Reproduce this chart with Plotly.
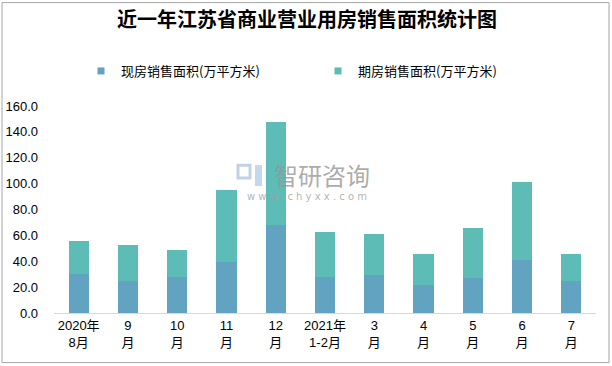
import plotly.graph_objects as go

categories = ["2020年<br>8月", "9<br>月", "10<br>月", "11<br>月", "12<br>月", "2021年<br>1-2月",
              "3<br>月", "4<br>月", "5<br>月", "6<br>月", "7<br>月"]
existing = [30.3, 24.9, 28.0, 39.5, 68.0, 28.0, 29.5, 21.8, 27.2, 41.1, 24.9]
totals = [55.7, 52.6, 48.8, 95.0, 147.4, 62.6, 61.1, 45.7, 65.7, 101.2, 45.7]
presale = [round(t - e, 1) for t, e in zip(totals, existing)]
series_names = ["现房销售面积(万平方米)", "期房销售面积(万平方米)"]
colors = ["#62A3C2", "#5DBCB6"]
ytick_vals = [0, 20, 40, 60, 80, 100, 120, 140, 160]

W, H = 612, 366
L, R, T, B = 54, 596, 105.7, 313.3

fig = go.Figure()
fig.add_bar(x=categories, y=existing, name=series_names[0], marker_color=colors[0],
            marker_line_width=0, showlegend=False)
fig.add_bar(x=categories, y=presale, name=series_names[1], marker_color=colors[1],
            marker_line_width=0, showlegend=False)
for name, c in zip(series_names, colors):
    fig.add_scatter(x=[None], y=[None], mode="markers", name=name,
                    marker=dict(symbol="square", size=7, color=c), showlegend=True)

def px(x):
    return (x - L) / (R - L)

def py(y):
    return (B - y) / (B - T)

fig.update_layout(
    width=W, height=H,
    margin=dict(l=L, r=W - R, t=T, b=H - B, pad=0, autoexpand=False),
    barmode="stack", bargap=0.59,
    plot_bgcolor="white", paper_bgcolor="white",
    font=dict(family="Noto Sans CJK SC, Liberation Sans", size=13, color="#000000"),
    title=dict(text="<b>近一年江苏省商业营业用房销售面积统计图</b>", x=307 / W, xref="container",
               xanchor="center",
               y=1 - 20 / H, yref="container", yanchor="middle",
               font=dict(family="Noto Sans CJK SC", size=20, color="#000000")),
    legend=dict(orientation="h", xref="container", yref="container", x=81 / W, y=1 - 71 / H,
                yanchor="middle", xanchor="left", entrywidth=192, itemwidth=30,
                font=dict(family="Noto Sans CJK SC", size=13, color="#000000"), traceorder="normal"),
    showlegend=True,
    xaxis=dict(showgrid=False, showline=True, linecolor="#D9D9D9", linewidth=1, ticks="",
               automargin=False,
               tickfont=dict(family="Liberation Sans, Noto Sans CJK SC", size=13), tickangle=0),
    yaxis=dict(range=[0, 160], tickvals=ytick_vals, tickformat=".1f", showgrid=False, zeroline=False,
               automargin=False, ticklabelstandoff=15,
               showline=False, ticks="", tickfont=dict(family="Liberation Sans", size=13)),
)

fig.add_shape(type="rect", xref="paper", yref="paper", x0=px(2), x1=px(609), y0=py(363), y1=py(2),
              line=dict(color="#A6A6A6", width=1), layer="below")

fig.add_annotation(text="智研咨询", xref="paper", yref="paper", x=px(322), y=py(174), showarrow=False,
                   xanchor="center", yanchor="middle",
                   font=dict(family="Noto Sans CJK SC", size=24, color="rgba(150,150,150,0.8)"))
fig.add_annotation(text="w w w . c h y x x . c o m", xref="paper", yref="paper", x=px(307), y=py(196),
                   showarrow=False, xanchor="center", yanchor="middle",
                   font=dict(family="DejaVu Sans", size=10, color="rgba(160,160,160,0.8)"))
fig.add_shape(type="rect", xref="paper", yref="paper", x0=px(238), x1=px(250), y0=py(178), y1=py(165),
              line=dict(color="rgba(170,190,220,0.7)", width=3), fillcolor="rgba(0,0,0,0)")
fig.add_shape(type="rect", xref="paper", yref="paper", x0=px(255), x1=px(262), y0=py(186), y1=py(165),
              line=dict(width=0), fillcolor="rgba(170,200,230,0.7)")

fig.write_html("out.html", config={"displayModeBar": False},
               post_script="document.body.style.margin='0';")
